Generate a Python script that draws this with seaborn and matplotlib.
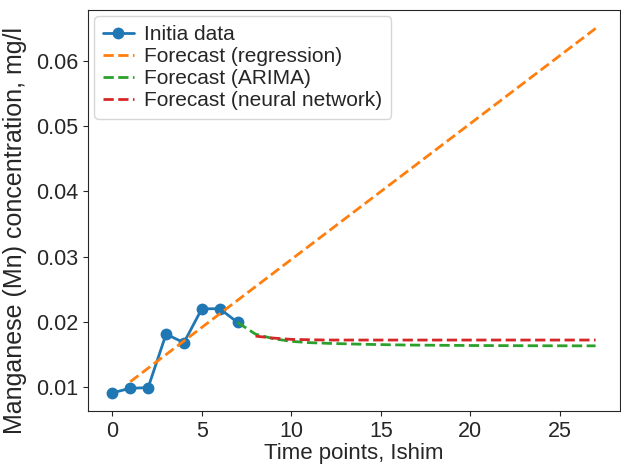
import numpy as np
import pandas as pd
import seaborn as sns
import matplotlib.pyplot as plt

# =============================================================================
# 1. DATA
# =============================================================================
time_initial = [0, 1, 2, 3, 4, 5, 6, 7]
mn_initial = [0.0091, 0.0098, 0.0099, 0.0181, 0.0168, 0.0220, 0.0220, 0.0199]

# regression forecast: straight line, start and end points
time_regression = [1, 27]
mn_regression = [0.0108, 0.0650]

time_arima = list(range(7, 28))
mn_arima = [0.0199, 0.0181, 0.0174, 0.0170, 0.0168, 0.0167, 0.01662, 0.01655,
            0.0165, 0.01645, 0.01642, 0.0164, 0.01638, 0.01636, 0.01635,
            0.01634, 0.01633, 0.01632, 0.01632, 0.01631, 0.01631]

time_nn = list(range(8, 28))
mn_nn = [0.0178, 0.0175, 0.0173, 0.01725, 0.0172, 0.0172, 0.0172, 0.0172,
         0.0172, 0.0172, 0.0172, 0.0172, 0.0172, 0.0172, 0.0172, 0.0172,
         0.0172, 0.0172, 0.0172, 0.0172]

# =============================================================================
# 2. STYLE
# =============================================================================
sns.set_style("ticks")
plt.rcParams['font.family'] = ['Liberation Sans', 'DejaVu Sans']
plt.rcParams['font.size'] = 15

colors = sns.color_palette("tab10")

# =============================================================================
# 3. PLOT
# =============================================================================
fig, ax = plt.subplots(figsize=(6.21, 4.65), dpi=100)
fig.subplots_adjust(left=0.142, right=0.998, top=0.978, bottom=0.116)

sns.lineplot(x=time_initial, y=mn_initial, ax=ax, color=colors[0],
             marker='o', markersize=8.5, markeredgewidth=0, linewidth=2,
             label='Initia data')
sns.lineplot(x=time_regression, y=mn_regression, ax=ax, color=colors[1],
             linestyle='--', linewidth=2, label='Forecast (regression)')
sns.lineplot(x=time_arima, y=mn_arima, ax=ax, color=colors[2],
             linestyle='--', linewidth=2, label='Forecast (ARIMA)')
sns.lineplot(x=time_nn, y=mn_nn, ax=ax, color=colors[3],
             linestyle='--', linewidth=2, label='Forecast (neural network)')

ax.set_xlabel('Time points, Ishim', fontsize=16, labelpad=1)
ax.set_ylabel('Manganese (Mn) concentration, mg/l', fontsize=18)
ax.yaxis.set_label_coords(-0.115, 0.45)
ax.set_xticks([0, 5, 10, 15, 20, 25])
ax.set_yticks([0.01, 0.02, 0.03, 0.04, 0.05, 0.06])
ax.tick_params(labelsize=15.5)
ax.legend(loc='upper left', fontsize=15, borderaxespad=0.3,
          handlelength=1.5, handletextpad=0.5, labelspacing=0.15,
          borderpad=0.4)

plt.savefig('out.png', dpi=100)
